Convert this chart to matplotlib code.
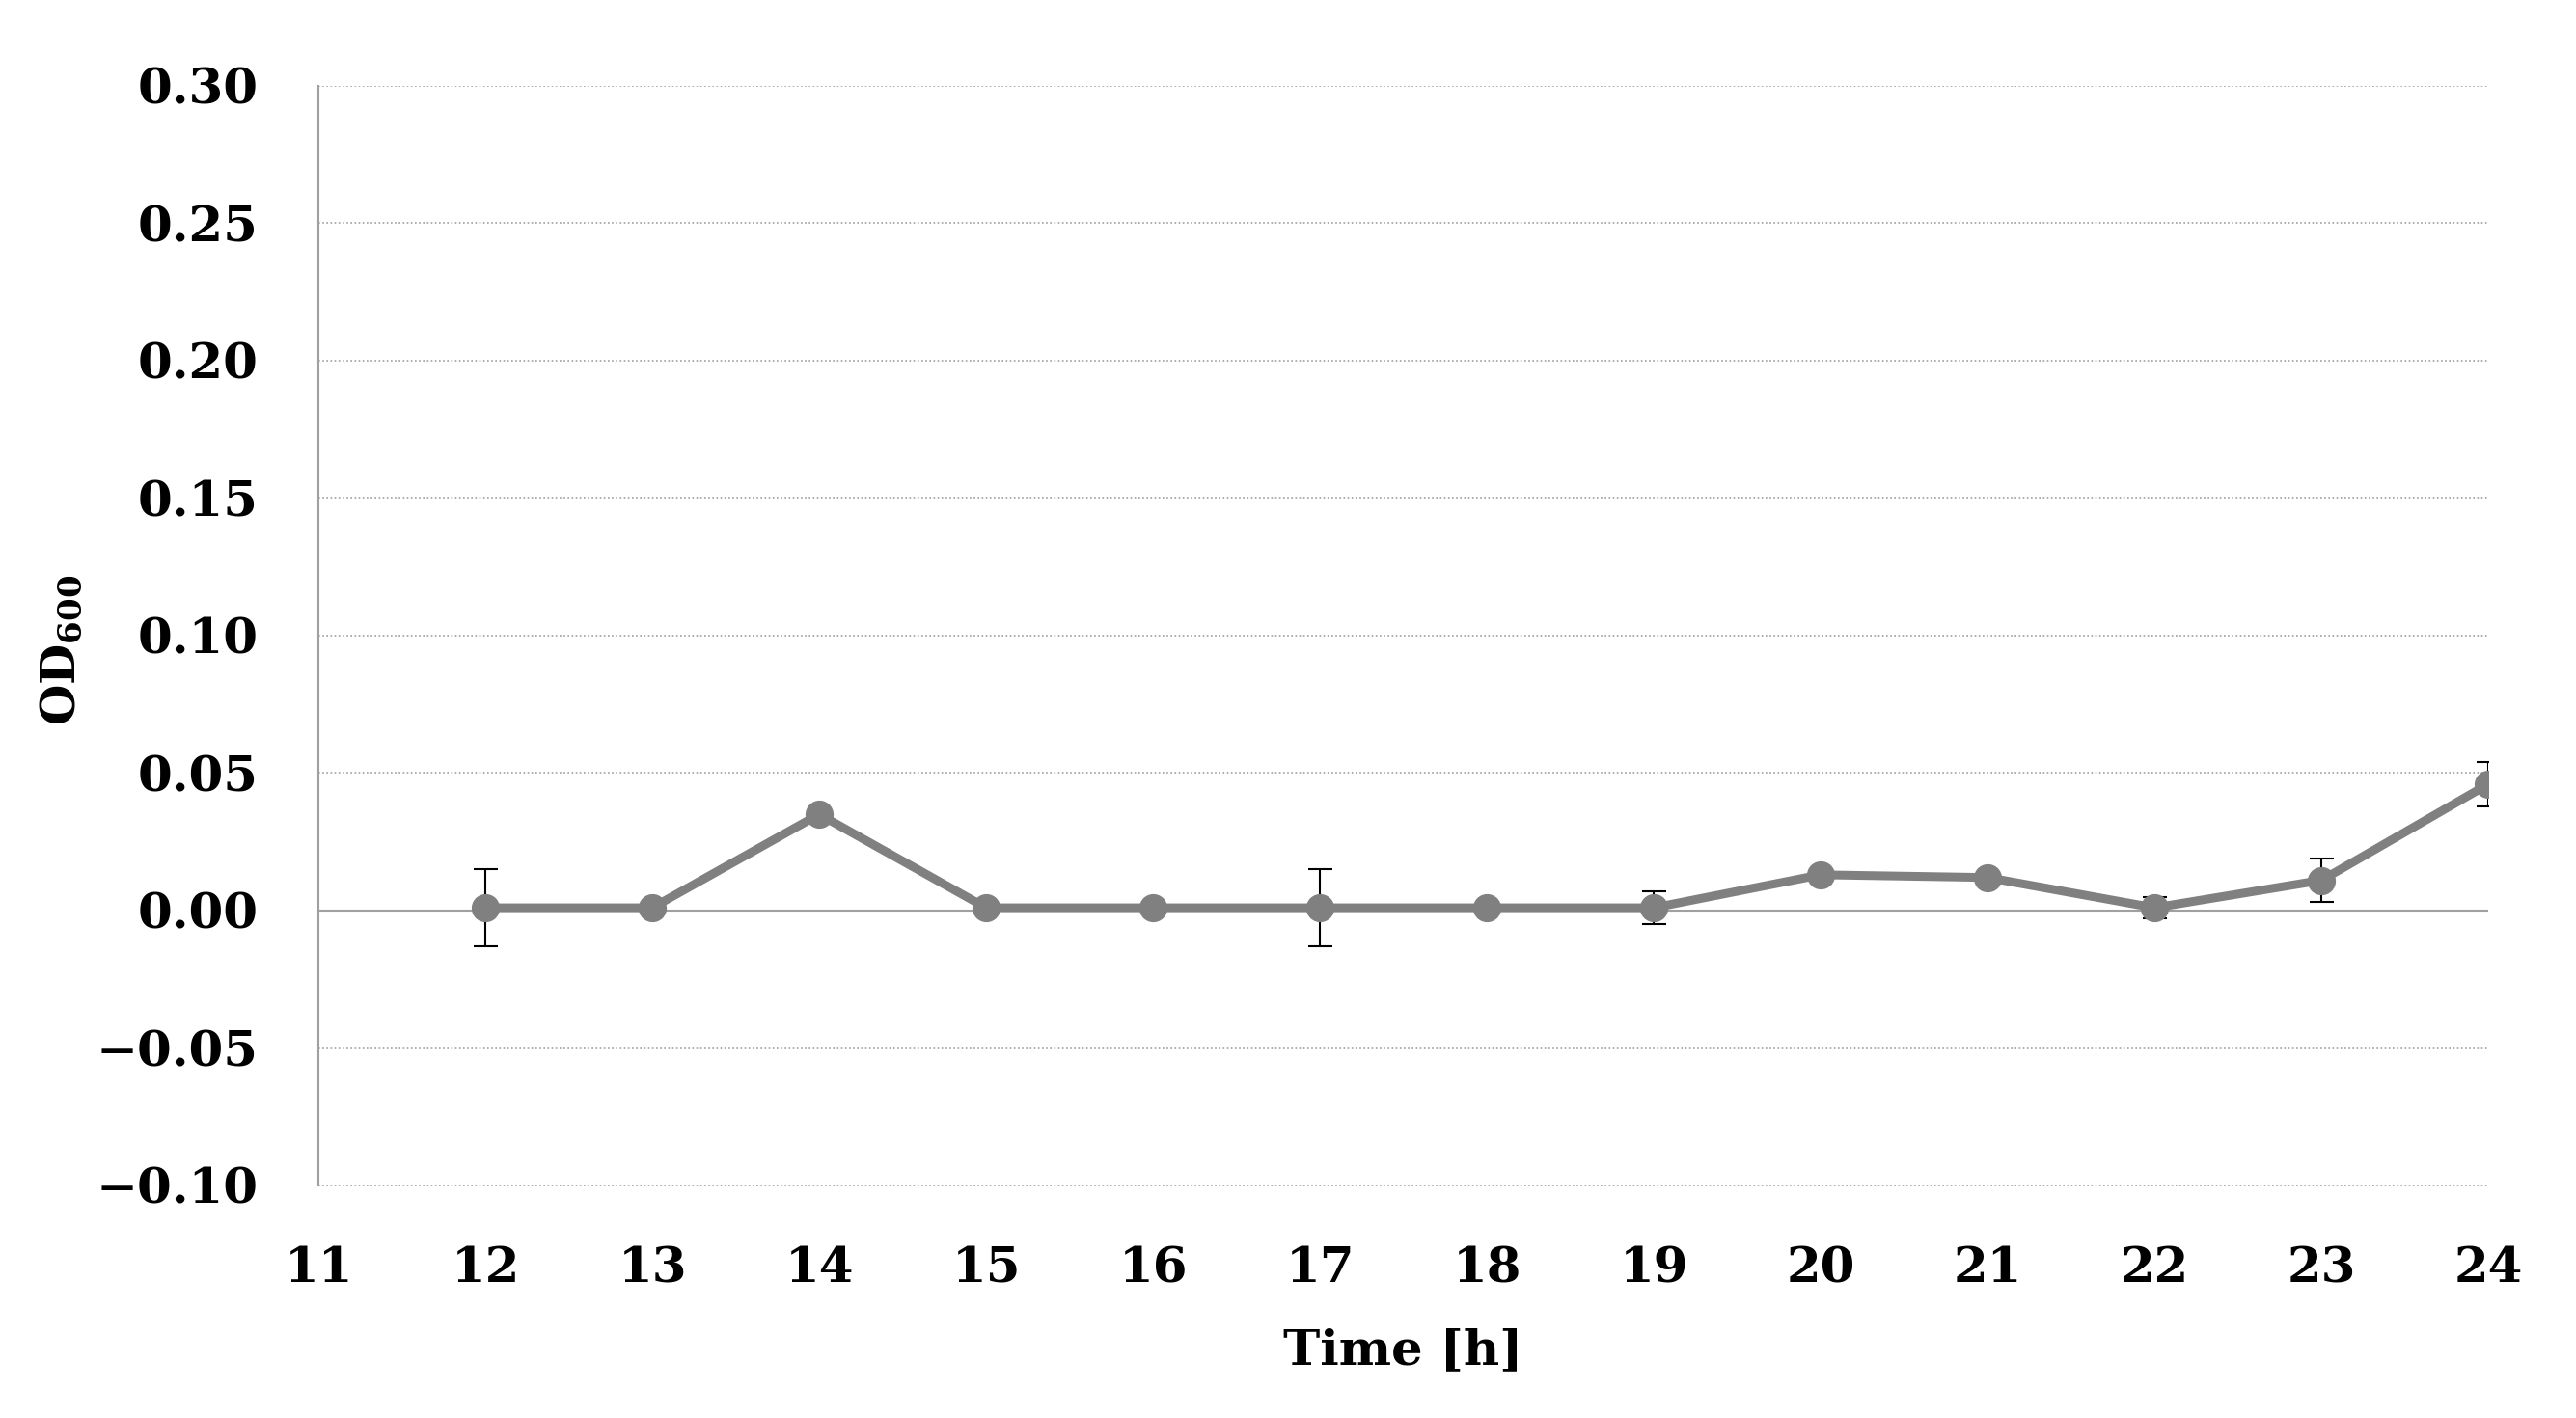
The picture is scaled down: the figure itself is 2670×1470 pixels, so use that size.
import matplotlib
matplotlib.use("Agg")
import matplotlib.pyplot as plt

# values
hours = [12, 13, 14, 15, 16, 17, 18, 19, 20, 21, 22, 23, 24]
od600 = [0.001, 0.001, 0.035, 0.001, 0.001, 0.001, 0.001, 0.001, 0.013, 0.012, 0.001, 0.011, 0.046]
od600_err = [0.014, 0.0005, 0.0005, 0.002, 0.002, 0.014, 0.0005, 0.006, 0.002, 0.002, 0.004, 0.008, 0.008]
x_ticks = list(range(11, 25))
y_ticks = [-0.10, -0.05, 0.00, 0.05, 0.10, 0.15, 0.20, 0.25, 0.30]

plt.rcParams["font.family"] = ["DejaVu Serif"]
plt.rcParams["font.weight"] = "bold"
plt.rcParams["mathtext.fontset"] = "custom"
plt.rcParams["mathtext.rm"] = "DejaVu Serif:bold"
plt.rcParams["mathtext.it"] = "DejaVu Serif:bold"

fig = plt.figure(figsize=(26.7, 14.7), dpi=100)
ax = fig.add_axes([0.1236, 0.164, 0.8424, 0.7755])

for yt in y_ticks:
    if yt == 0:
        ax.axhline(yt, color="#a0a0a0", lw=1.5, zorder=1)
    else:
        ax.axhline(yt, color="#a0a0a0", lw=1.2, ls=(0, (1, 1.5)), zorder=1)

ax.errorbar(hours, od600, yerr=od600_err, color="#808080", lw=6.5,
            marker="o", markersize=20, markerfacecolor="#808080", markeredgecolor="#808080",
            ecolor="black", elinewidth=1.5, capsize=9, capthick=1.5, zorder=3)

ax.set_xlim(11, 24)
ax.set_ylim(-0.10, 0.30)
ax.set_xticks(x_ticks)
ax.set_yticks(y_ticks)
ax.set_yticklabels([f"{v:.2f}".replace("-", "\u2212") for v in y_ticks])
ax.tick_params(axis="both", length=0, labelsize=37)
ax.tick_params(axis="x", pad=45)
ax.tick_params(axis="y", pad=45)

for side in ["top", "right", "bottom"]:
    ax.spines[side].set_visible(False)
ax.spines["left"].set_color("#a0a0a0")
ax.spines["left"].set_linewidth(1.5)

ax.set_xlabel("Time [h]", fontsize=37, fontweight="bold", labelpad=26)
ax.set_ylabel(r"OD$_{600}$", fontsize=35, fontweight="bold")
ax.yaxis.set_label_coords(-0.108, 0.487)

fig.savefig("out.png", dpi=100, facecolor="white")
